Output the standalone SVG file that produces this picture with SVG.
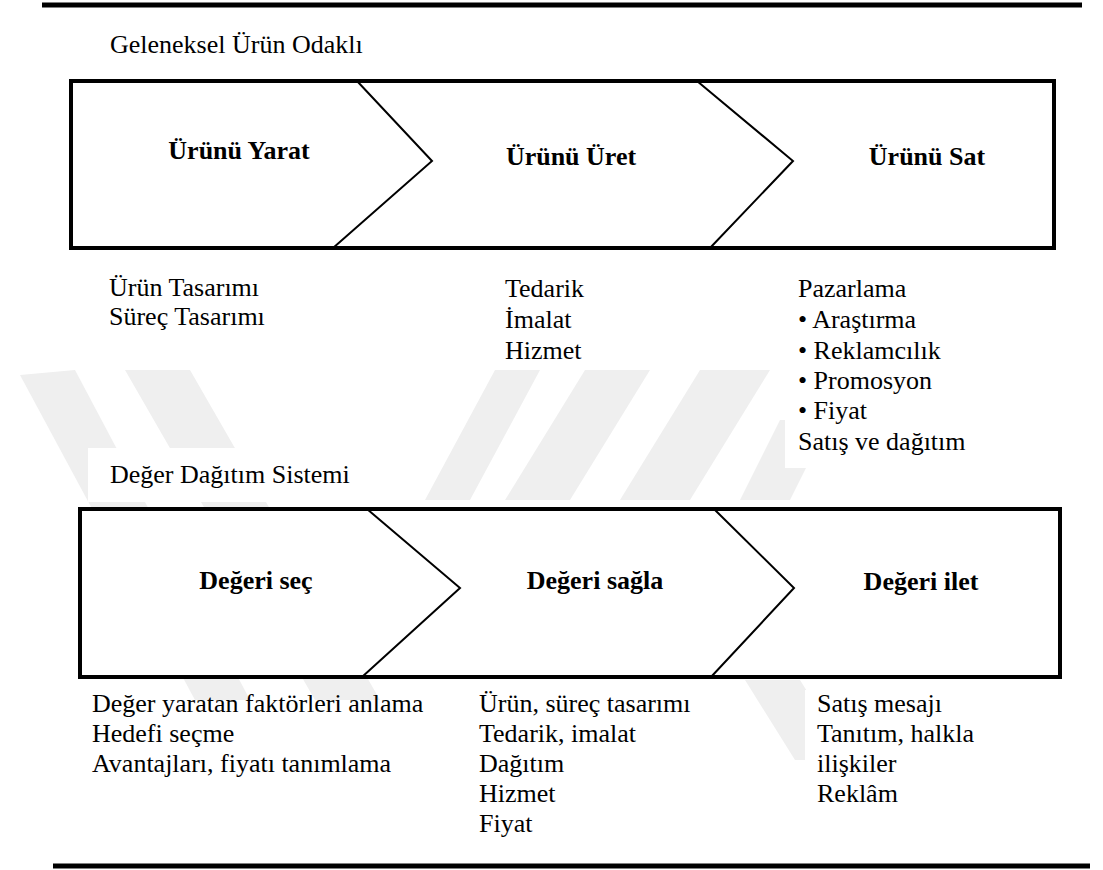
<svg xmlns="http://www.w3.org/2000/svg" width="1103" height="870" viewBox="0 0 1103 870">
  <style>
    .rule { stroke: #000; stroke-width: 5; }
    .frame { fill: #fff; stroke: #000; stroke-width: 4; }
    .chev { fill: none; stroke: #000; stroke-width: 2; }
    .head { font-family: "Liberation Serif", "Times New Roman", serif; font-size: 26px; font-weight: bold; fill: #000; text-anchor: middle; }
    .txt { font-family: "Liberation Serif", "Times New Roman", serif; font-size: 26px; fill: #000; }
    .wm { fill: #efefef; }
  </style>

  <rect width="1103" height="870" fill="#fff"/>

  <!-- faint background mark -->
  <g id="watermark">
    <polygon class="wm" points="20,375 75,370 250,700 195,700"/>
    <polygon class="wm" points="125,370 190,370 380,700 315,700"/>
    <polygon class="wm" points="425,500 470,500 540,370 495,370"/>
    <polygon class="wm" points="505,500 570,500 650,370 585,370"/>
    <polygon class="wm" points="620,500 690,500 770,370 700,370"/>
    <polygon class="wm" points="740,500 790,500 830,420 780,420"/>
    <polygon class="wm" points="745,680 800,680 850,760 795,760"/>
  </g>

  <!-- page rules -->
  <line class="rule" x1="42" y1="5" x2="1082" y2="5"/>
  <line class="rule" x1="53" y1="866" x2="1090" y2="866"/>

  <!-- section titles -->
  <g id="title-traditional">
    <rect x="95" y="20" width="300" height="45" fill="#fff"/>
    <text class="txt" x="110" y="53">Geleneksel Ürün Odaklı</text>
  </g>
  <g id="title-value">
    <rect x="88" y="448" width="334" height="54" fill="#fff"/>
    <text class="txt" x="110" y="483">Değer Dağıtım Sistemi</text>
  </g>

  <!-- upper chain: product-focused process -->
  <g id="chain-traditional">
    <rect class="frame" x="71" y="81" width="983" height="167"/>
  </g>
  <g id="connectors">
    <polyline class="chev" points="357,81 432,161 333,248"/>
    <polyline class="chev" points="697,81 793,161 710,248"/>
    <polyline class="chev" points="367,509 460,588 362,677"/>
    <polyline class="chev" points="714,509 794,588 711,677"/>
  </g>
  <g id="node-create">
    <text class="head" x="239" y="159">Ürünü Yarat</text>
  </g>
  <g id="node-produce">
    <text class="head" x="571" y="165">Ürünü Üret</text>
  </g>
  <g id="node-sell">
    <text class="head" x="927" y="165">Ürünü Sat</text>
  </g>

  <g id="notes-create">
    <text class="txt" x="109" y="296">Ürün Tasarımı</text>
    <text class="txt" x="109" y="325">Süreç Tasarımı</text>
  </g>
  <g id="notes-produce">
    <rect x="495" y="270" width="120" height="100" fill="#fff"/>
    <text class="txt" x="505" y="297">Tedarik</text>
    <text class="txt" x="505" y="328">İmalat</text>
    <text class="txt" x="505" y="359">Hizmet</text>
  </g>
  <g id="notes-sell">
    <rect x="785" y="270" width="200" height="198" fill="#fff"/>
    <text class="txt" x="798" y="297">Pazarlama</text>
    <text class="txt" x="798" y="328">• Araştırma</text>
    <text class="txt" x="798" y="359">• Reklamcılık</text>
    <text class="txt" x="798" y="389">• Promosyon</text>
    <text class="txt" x="798" y="419">• Fiyat</text>
    <text class="txt" x="798" y="450">Satış ve dağıtım</text>
  </g>

  <!-- lower chain: value delivery system -->
  <g id="chain-value">
    <rect class="frame" x="80" y="509" width="980" height="168"/>
    <polyline class="chev" points="367,509 460,588 362,677"/>
    <polyline class="chev" points="714,509 794,588 711,677"/>
  </g>
  <g id="node-choose">
    <text class="head" x="256" y="589">Değeri seç</text>
  </g>
  <g id="node-provide">
    <text class="head" x="595" y="589">Değeri sağla</text>
  </g>
  <g id="node-communicate">
    <text class="head" x="921" y="590">Değeri ilet</text>
  </g>

  <g id="notes-choose">
    <text class="txt" x="92" y="712">Değer yaratan faktörleri anlama</text>
    <text class="txt" x="92" y="742">Hedefi seçme</text>
    <text class="txt" x="92" y="772">Avantajları, fiyatı tanımlama</text>
  </g>
  <g id="notes-provide">
    <text class="txt" x="479" y="712">Ürün, süreç tasarımı</text>
    <text class="txt" x="479" y="742">Tedarik, imalat</text>
    <text class="txt" x="479" y="772">Dağıtım</text>
    <text class="txt" x="479" y="802">Hizmet</text>
    <text class="txt" x="479" y="832">Fiyat</text>
  </g>
  <g id="notes-communicate">
    <rect x="805" y="690" width="200" height="125" fill="#fff"/>
    <text class="txt" x="817" y="712">Satış mesajı</text>
    <text class="txt" x="817" y="742">Tanıtım, halkla</text>
    <text class="txt" x="817" y="772">ilişkiler</text>
    <text class="txt" x="817" y="802">Reklâm</text>
  </g>
</svg>
